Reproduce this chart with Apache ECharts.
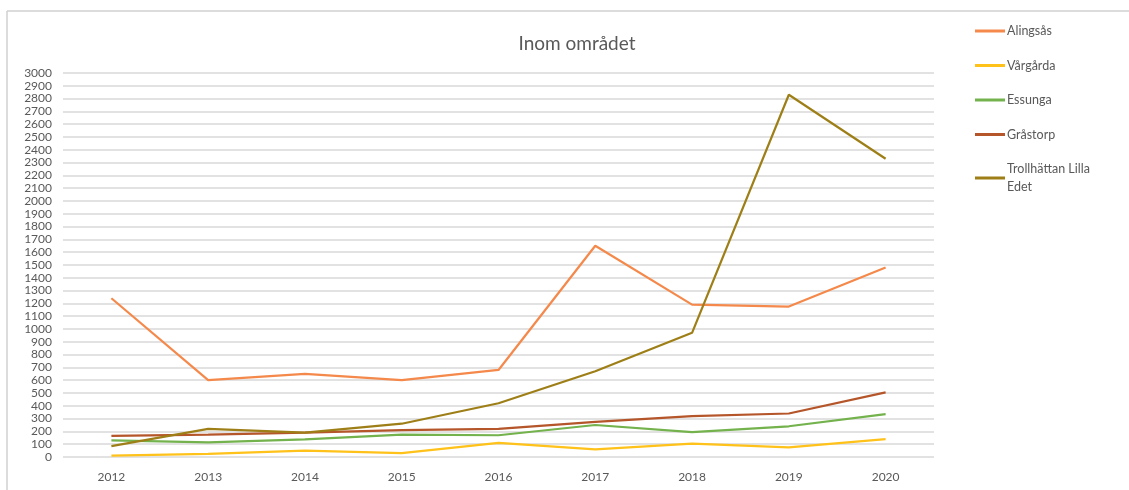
<!DOCTYPE html>
<html>
<head>
<meta charset="utf-8">
<script src="https://cdn.jsdelivr.net/npm/echarts@6/dist/echarts.min.js"></script>
<style>
html,body{margin:0;padding:0;background:#fff;}
#chart{width:1129px;height:490px;}
</style>
</head>
<body>
<div id="chart"></div>
<script>
const years = ['2012','2013','2014','2015','2016','2017','2018','2019','2020'];
const alingsas = [1240, 600, 650, 600, 680, 1650, 1190, 1175, 1480];
const vargarda = [10, 25, 50, 30, 110, 60, 105, 75, 140];
const essunga = [130, 115, 138, 175, 170, 250, 195, 240, 335];
const grastorp = [165, 175, 190, 210, 220, 275, 320, 340, 505];
const trollhattan = [85, 220, 190, 260, 420, 670, 970, 2830, 2330];
const seriesNames = ['Alingsås', 'Vårgårda', 'Essunga', 'Gråstorp', 'Trollhättan Lilla Edet'];
const colors = ['#F4894B', '#FFC21A', '#73B24C', '#B5552A', '#9E7F17'];

const dataList = [alingsas, vargarda, essunga, grastorp, trollhattan];
const font = 'Lato, "Open Sans", sans-serif';
const legendCommon = {
  orient: 'vertical',
  left: 975, padding: 0,
  itemWidth: 30, itemHeight: 3,
  icon: 'rect'
};
const chart = echarts.init(document.getElementById('chart'));
chart.setOption({
  animation: false,
  backgroundColor: '#fff',
  title: {
    text: 'Inom området',
    left: 572, top: 29, textAlign: 'center',
    textStyle: {fontFamily: font, fontSize: 19, fontWeight: 'normal', color: '#595959'}
  },
  legend: [
    Object.assign({}, legendCommon, {
      top: 23, itemGap: 18.5,
      data: seriesNames.slice(0, 4),
      textStyle: {fontFamily: font, fontSize: 12.5, color: '#595959', lineHeight: 16, padding: [0,0,0,-3]}
    }),
    Object.assign({}, legendCommon, {
      top: 151,
      data: seriesNames.slice(4),
      formatter: function(n){ return 'Trollhättan Lilla\nEdet'; },
      textStyle: {fontFamily: font, fontSize: 12.5, color: '#595959', lineHeight: 18, padding: [18,0,0,-3]}
    })
  ],
  grid: {left: 63, right: 195, top: 73, bottom: 33},
  xAxis: {
    type: 'category',
    data: years,
    boundaryGap: true,
    axisLine: {show: false},
    axisTick: {show: false},
    axisLabel: {fontFamily: font, fontSize: 12, color: '#595959', margin: 14}
  },
  yAxis: {
    type: 'value',
    min: 0, max: 3000, interval: 100,
    axisLine: {show: false},
    axisTick: {show: false},
    splitLine: {lineStyle: {color: '#D9D9D9', width: 1.5}},
    axisLabel: {fontFamily: font, fontSize: 12, color: '#595959', margin: 11, formatter: v => String(v)}
  },
  series: seriesNames.map((n, i) => ({
    name: n,
    type: 'line',
    data: dataList[i],
    showSymbol: false,
    symbol: 'none',
    lineStyle: {color: colors[i], width: 2.2},
    itemStyle: {color: colors[i]}
  })),
  graphic: [
    {type: 'line', shape: {x1: 7, y1: 11, x2: 1129, y2: 11}, style: {stroke: '#D0D0D0', lineWidth: 1.5}, silent: true},
    {type: 'line', shape: {x1: 7, y1: 11, x2: 7, y2: 490}, style: {stroke: '#D0D0D0', lineWidth: 1.5}, silent: true}
  ]
});
</script>
</body>
</html>
